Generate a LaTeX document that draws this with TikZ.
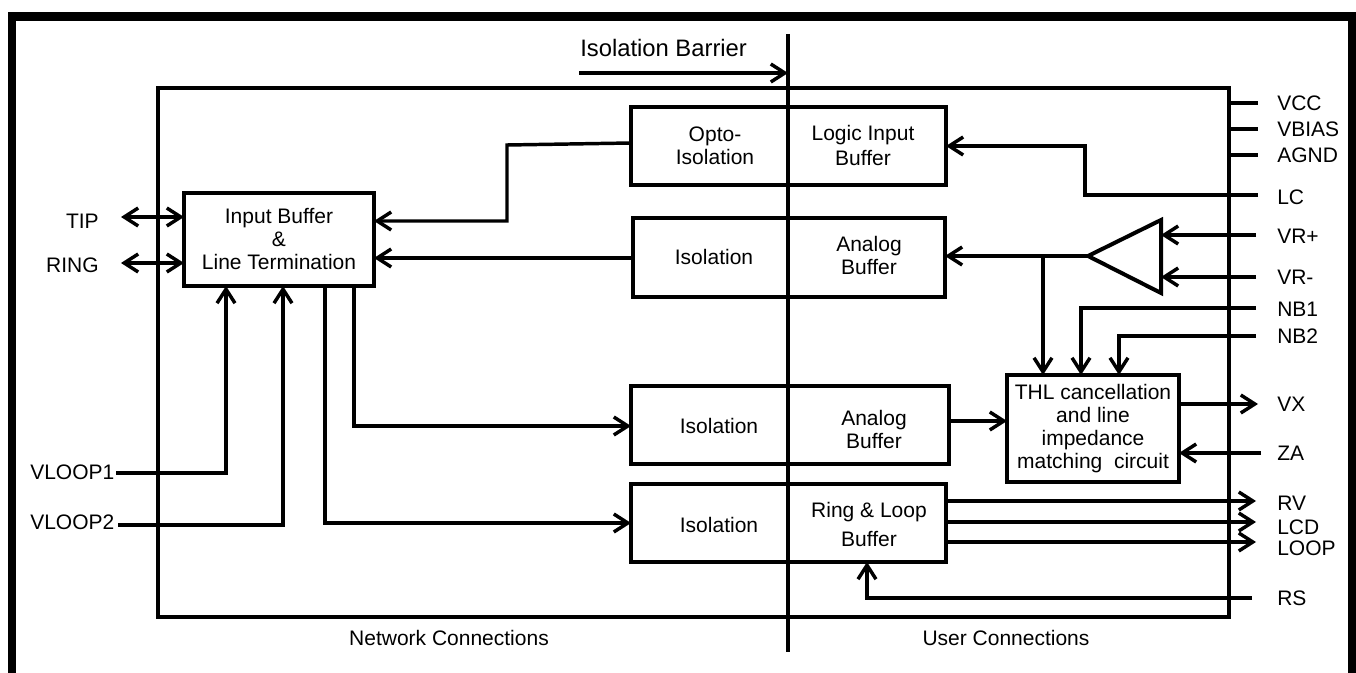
\documentclass[tikz,border=0pt]{standalone}
\usepackage{fontspec}
\setmainfont{Liberation Sans}
\usetikzlibrary{arrows.meta}

\tikzset{
  boxnode/.style={draw,line width=3pt,outer sep=0pt,inner sep=0pt},
  wire/.style={line width=2.6pt},
  lab/.style={inner sep=0pt,align=center,font=\fontsize{15.75}{17.25}\selectfont},
}

\begin{document}
\begin{tikzpicture}[x=0.75pt,y=-0.75pt,>={Straight Barb[length=10.5pt,width=13.5pt]}]
  \useasboundingbox (0,0) rectangle (1356,673);
  \draw[line width=6.5pt] (12,673) -- (12,16.5) -- (1352,16.5) -- (1352,673);

  % main boxes
  \node[boxnode,line width=2.3pt,minimum width=803.25pt,minimum height=396.75pt] at (693.5,352.5) (mainbox) {};
  \node[boxnode,minimum width=236.25pt,minimum height=58.5pt] at (788.5,146) (logicbox) {};
  \node[boxnode,minimum width=234pt,minimum height=59.25pt] at (789,257.5) (rxbox) {};
  \node[boxnode,minimum width=238.5pt,minimum height=58.5pt] at (790,425) (txbox) {};
  \node[boxnode,minimum width=236.25pt,minimum height=58.5pt] at (788.5,523) (ringbox) {};
  \node[boxnode,lab,minimum width=142.5pt,minimum height=69.75pt] at (279,239.5) (inbuf) {Input Buffer\\\&\\Line Termination};
  \node[boxnode,lab,minimum width=129pt,minimum height=80.25pt] at (1093,428.5) (thl) {THL cancellation\\and line\\impedance\\matching\ \ circuit};

  % text in the split boxes
  \node[lab] at (715,146) (optotxt) {Opto-\\Isolation};
  \node[lab] at (863,145.5) (logictxt) {Logic Input\\[1.5pt]Buffer};
  \node[lab] at (714,257) (rxisotxt) {Isolation};
  \node[lab] at (869,255.5) (rxbuftxt) {Analog\\Buffer};
  \node[lab] at (719,426) (txisotxt) {Isolation};
  \node[lab] at (874,429) (txbuftxt) {Analog\\Buffer};
  \node[lab] at (719,525) (ringisotxt) {Isolation};
  \node[lab] at (869,524.5) (ringtxt) {Ring \& Loop\\[4pt]Buffer};

  % barrier
  \node[lab,anchor=west,font=\fontsize{17.85}{20}\selectfont] at (580,48) (barriertxt) {Isolation Barrier};
  \coordinate (bartop) at (788,34);
  \coordinate (barbot) at (788,652);
  \draw[line width=2.7pt] (bartop) -- (barbot);
  \coordinate (barstart) at (579,73);
  \draw[wire,->] (barstart) -- (barstart -| bartop);
  \node[lab] at (449,638) (nettxt) {Network Connections};
  \node[lab] at (1006,638) (usertxt) {User Connections};

  % left pins
  \node[lab,anchor=east] at (99,221) (tiptxt) {TIP};
  \node[lab,anchor=east] at (99,265) (ringpintxt) {RING};
  \node[lab,anchor=west] at (30,472) (vlpatxt) {VLOOP1};
  \node[lab,anchor=west] at (30,522) (vlpbtxt) {VLOOP2};
  \coordinate (ptip) at (121,217);
  \coordinate (pring) at (121,263);
  \coordinate (pvlpa) at (116,473);
  \coordinate (pvlpb) at (118,525);
  \draw[wire,<->] (ptip) -- (inbuf.west |- ptip);
  \draw[wire,<->] (pring) -- (inbuf.west |- pring);
  \draw[wire,->] (pvlpa) -| (226,0 |- inbuf.south);
  \draw[wire,->] (pvlpb) -| (283,0 |- inbuf.south);

  % buffer to isolation
  \draw[wire,->] (logicbox.west |- 0,143) -- (507,145) |- (inbuf.east |- 0,221);
  \draw[wire,->] (rxbox.west |- 0,258) -- (inbuf.east |- 0,258);
  \draw[wire,->] (354,0 |- inbuf.south) |- (txbox.west |- 0,426);
  \draw[wire,->] (325,0 |- inbuf.south) |- (ringbox.west |- 0,523);

  % receive amplifier
  \coordinate (ampout) at (1088,256);
  \coordinate (ampedge) at (1161,256);
  \draw[boxnode] (ampout) -- (1161,220) -- (1161,293) -- cycle;
  \draw[wire,->] (ampout) -- (rxbox.east |- ampout);
  \draw[wire,->] (1043,0 |- ampout) -- (1043,0 |- thl.north);
  \draw[wire,->] (txbox.east |- 0,421) -- (thl.west |- 0,421);

  % right pins
  \node[lab,anchor=west] at (1277,103) (vcctxt) {VCC};
  \node[lab,anchor=west] at (1277,129) (vbiastxt) {VBIAS};
  \node[lab,anchor=west] at (1277,155) (agndtxt) {AGND};
  \node[lab,anchor=west] at (1277,197) (lctxt) {LC};
  \node[lab,anchor=west] at (1277,236) (vrptxt) {VR+};
  \node[lab,anchor=west] at (1277,277) (vrmtxt) {VR-};
  \node[lab,anchor=west] at (1277,309) (nbatxt) {NB1};
  \node[lab,anchor=west] at (1277,336) (nbbtxt) {NB2};
  \node[lab,anchor=west] at (1277,404) (vxtxt) {VX};
  \node[lab,anchor=west] at (1277,453) (zatxt) {ZA};
  \node[lab,anchor=west] at (1277,503) (rvtxt) {RV};
  \node[lab,anchor=west] at (1277,527) (lcdtxt) {LCD};
  \node[lab,anchor=west] at (1277,548) (looptxt) {LOOP};
  \node[lab,anchor=west] at (1277,598) (rstxt) {RS};
  \coordinate (pvcc) at (1258,103);
  \coordinate (pvbias) at (1258,129);
  \coordinate (pagnd) at (1258,155);
  \coordinate (plc) at (1258,195);
  \coordinate (pvrp) at (1256,235);
  \coordinate (pvrm) at (1256,277);
  \coordinate (pnba) at (1256,308);
  \coordinate (pnbb) at (1256,336);
  \coordinate (pvx) at (1258,404);
  \coordinate (pza) at (1261,453);
  \coordinate (prv) at (1256,501);
  \coordinate (plcd) at (1256,522);
  \coordinate (ploop) at (1256,542);
  \coordinate (prs) at (1252,598);
  \draw[wire] (mainbox.east |- pvcc) -- (pvcc);
  \draw[wire] (mainbox.east |- pvbias) -- (pvbias);
  \draw[wire] (mainbox.east |- pagnd) -- (pagnd);
  \draw[wire,->] (plc) -| (1085,146) -- (logicbox.east |- 0,146);
  \draw[wire,->] (pvrp) -- (ampedge |- pvrp);
  \draw[wire,->] (pvrm) -- (ampedge |- pvrm);
  \draw[wire,->] (pnba) -| (1081,0 |- thl.north);
  \draw[wire,->] (pnbb) -| (1119,0 |- thl.north);
  \draw[wire,->] (thl.east |- pvx) -- (pvx);
  \draw[wire,->] (pza) -- (thl.east |- pza);
  \draw[wire,->] (ringbox.east |- prv) -- (prv);
  \draw[wire,->] (ringbox.east |- plcd) -- (plcd);
  \draw[wire,->] (ringbox.east |- ploop) -- (ploop);
  \draw[wire,->] (prs) -| (867,0 |- ringbox.south);
\end{tikzpicture}
\end{document}
